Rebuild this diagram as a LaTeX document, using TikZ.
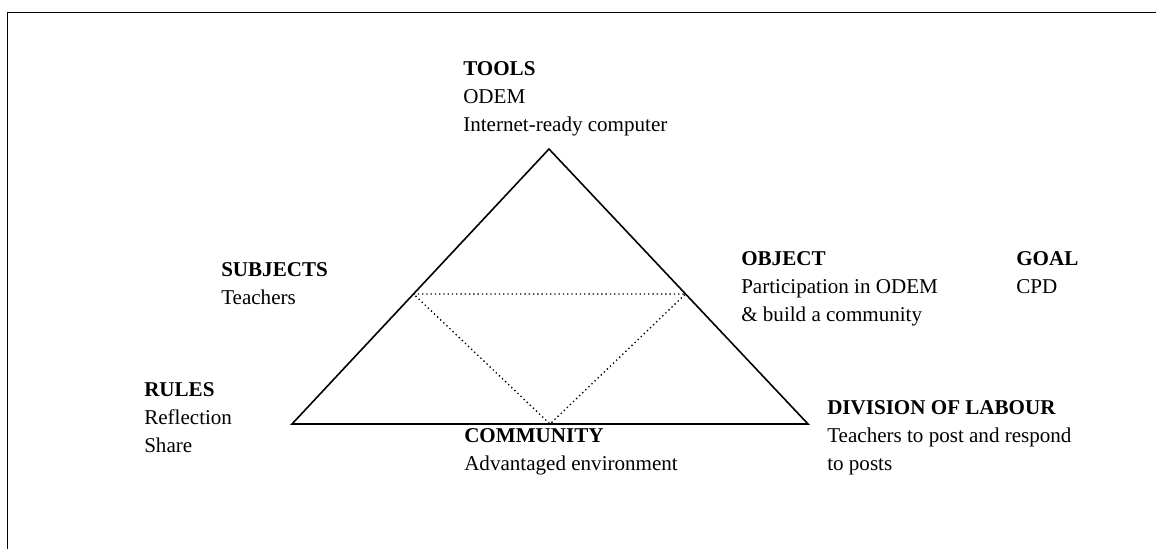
\documentclass[tikz,border=0pt]{standalone}
\usepackage{fontspec}
\setmainfont{Liberation Serif}
\usetikzlibrary{calc}
\begin{document}
\begin{tikzpicture}[
                        x=0.75pt, y=-0.75pt,
                        blocktext/.style={anchor=base west, align=left, inner sep=0pt,
                                          font=\fontsize{15.8}{21}\selectfont},
                        side/.style={line width=1.2pt},
                        guide/.style={line width=1pt, dash pattern=on 1pt off 2.2pt}
                    ]
                    \useasboundingbox (0,0) rectangle (1156,549);
                    % Frame
                    \coordinate (framebl) at (7.5,560);
                    \coordinate (frametl) at (7.5,12.5);
                    \coordinate (frametr) at (1170,12.5);
                    \draw [side] (framebl) -- (frametl) -- (frametr);

                    % Corners
                    \coordinate (apex) at (549,149);
                    \coordinate (left) at (292,424);
                    \coordinate (right) at (808,424);
                    \coordinate (midleft) at ($(left)!0.4727!(apex)$);
                    \coordinate (midright) at ($(right)!0.4727!(apex)$);
                    \coordinate (bottom) at ($(left)!0.5!(right)$);

                    % Blocks (anchored at the baseline of their last line)
                    \node [blocktext] (tools) at (463,132) {\textbf{TOOLS}\\ODEM\\Internet-ready computer};
                    \node [blocktext] (subjects) at (221,304) {\textbf{SUBJECTS}\\Teachers};
                    \node [blocktext] (object) at (741,321) {\textbf{OBJECT}\\Participation in ODEM\\\& build a community};
                    \node [blocktext] (goal) at (1016,293) {\textbf{GOAL}\\CPD};
                    \node [blocktext] (rules) at (144,452) {\textbf{RULES}\\Reflection\\Share};
                    \node [blocktext] (division) at (827,470) {\textbf{DIVISION OF LABOUR}\\Teachers to post and respond\\to posts};
                    \node [blocktext] (community) at (464,470) {\textbf{COMMUNITY}\\Advantaged environment};

                    % Connections
                    \draw [side] (left) -- (apex) -- (right) -- cycle;
                    \draw [guide] (midleft) -- (midright) -- (bottom) -- cycle;
                \end{tikzpicture}
\end{document}
